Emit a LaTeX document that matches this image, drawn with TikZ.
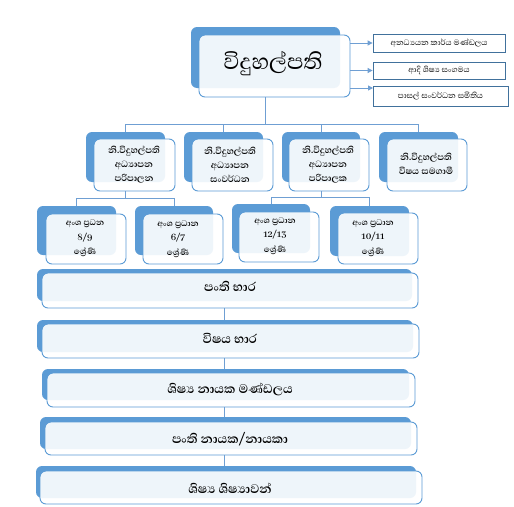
\documentclass[tikz,border=0pt]{standalone}
\usepackage{fontspec}
\newfontfamily\sinhfont[Script=Sinhala]{Abhaya Libre}
\usetikzlibrary{arrows.meta}
\definecolor{accent}{HTML}{5B9BD5}
\definecolor{linec}{HTML}{6F9FD3}
\definecolor{sidec}{HTML}{41719C}
\tikzset{
  backbox/.style={fill=accent, draw=none, rounded corners=6pt, inner sep=0pt},
  frontbox/.style={fill=white, fill opacity=0.9, draw=accent, draw opacity=1, line width=0.9pt, rounded corners=6pt, inner sep=0pt},
  sidebox/.style={draw=sidec, line width=0.8pt, fill=white, inner sep=0pt, align=center},
  conn/.style={draw=linec, line width=1pt},
  arr/.style={conn, -{Triangle[length=5pt,width=5pt]}},
  lbl/.style={align=center, inner sep=0pt},
  smalltxt/.style={font=\sinhfont\fontsize{10}{10}\selectfont},
  midtxt/.style={lbl, font=\sinhfont\bfseries\fontsize{11.5}{14}\selectfont},
  lowtxt/.style={lbl, font=\sinhfont\bfseries\fontsize{10.5}{14.5}\selectfont},
  widetxt/.style={lbl, font=\sinhfont\bfseries\fontsize{16}{18}\selectfont},
}
\newcommand\orgbox[9]{%
  \node[backbox, minimum width={(#4-#2)*1pt}, minimum height={(#5-#3)*1pt}] (#1b) at ({(#2+#4)/2},{(#3+#5)/2}) {};
  \node[frontbox, minimum width={(#8-#6)*1pt}, minimum height={(#9-#7)*1pt}] (#1) at ({(#6+#8)/2},{(#7+#9)/2}) {};
}
\begin{document}
\begin{tikzpicture}[x=1pt, y=-1pt]
\useasboundingbox[fill=white] (0,0) rectangle (514,506);

% top box
\orgbox{top}{191}{27}{340}{88}{199}{35}{350}{97}
\node[lbl, font=\sinhfont\fontsize{28}{30}\selectfont] (toptxt) at (273,64) {විදුහල්පති};

% side boxes
\node[sidebox, minimum width=132pt, minimum height=18pt, smalltxt] (s1) at (439,43) {අනධ්^^^^200dයයන කාර්ය මණ්ඩලය};
\node[sidebox, minimum width=132pt, minimum height=17pt, smalltxt] (s2) at (439,70.5) {ආදි ශිෂ්^^^^200dය සංගමය};
\node[sidebox, minimum width=135pt, minimum height=20pt, smalltxt] (s3) at (440.5,96) {පාසල් සංවර්ධන සමිතිය};
\coordinate (a3) at (373,88);
\draw[arr] (top.east |- s1.west) -- (s1.west);
\draw[arr] (top.east |- s2.west) -- (s2.west);
\draw[arr] (top.east |- a3) -- (a3);

% second row
\orgbox{r1}{86}{132}{165}{182}{94}{139}{175}{191}
\orgbox{r2}{184}{132}{263}{182}{192}{139}{273}{191}
\orgbox{r3}{282}{132}{360}{182}{289}{139}{369}{191}
\orgbox{r4}{379}{132}{458}{182}{387}{139}{467}{191}
\node[midtxt] (r1t) at (134,165) {නි.විදුහල්පති\\අධ්^^^^200dයාපන\\පරිපාලන};
\node[midtxt] (r2t) at (230,165) {නි.විදුහල්පති\\අධ්^^^^200dයාපන\\සංවර්ධන};
\node[midtxt] (r3t) at (328,165) {නි.විදුහල්පති\\අධ්^^^^200dයාපන\\පරිපාලක};
\node[midtxt] (r4t) at (426,164) {නි.විදුහල්පති\\විෂය සමගාමී};

\coordinate (bus1) at (266,124);
\draw[conn] (top.south -| topb.south) -- (topb.south |- bus1);
\draw[conn] (r1b.north) -- (r1b.north |- bus1) -- (r4b.north |- bus1) -- (r4b.north);
\draw[conn] (r2b.north) -- (r2b.north |- bus1);
\draw[conn] (r3b.north) -- (r3b.north |- bus1);

% third row
\orgbox{a}{37}{206}{116}{255}{46}{214}{126}{264}
\orgbox{bq}{135}{206}{213}{255}{143}{214}{223}{264}
\orgbox{c}{232}{204}{310}{253}{239}{212}{319}{262}
\orgbox{d}{330}{206}{409}{256}{338}{213}{418}{264}
\node[lowtxt] (at) at (85,238.5) {අංශ ප්^^^^200dරධන\\8/9\\ශ්^^^^200dරේණි};
\node[lowtxt] (bt) at (178,239) {අංශ ප්^^^^200dරධාන\\6/7\\ශ්^^^^200dරේණි};
\node[lowtxt] (ct) at (275,236) {අංශ ප්^^^^200dරධාන\\12/13\\ශ්^^^^200dරේණි};
\node[lowtxt] (dt) at (373,238) {අංශ ප්^^^^200dරධාන\\10/11\\ශ්^^^^200dරේණි};

\coordinate (bus2) at (0,198);
\coordinate (bus3) at (0,197);
\draw[conn] (r1.south -| r1b.south) -- (r1b.south |- bus2);
\draw[conn] (ab.north) -- (ab.north |- bus2) -- (bqb.north |- bus2) -- (bqb.north);
\draw[conn] (r3.south -| r3b.south) -- (r3b.south |- bus3);
\draw[conn] (cb.north) -- (cb.north |- bus3) -- (db.north |- bus3) -- (db.north);

% wide rows
\orgbox{w1}{37}{269}{412}{301}{42}{273}{418}{308}
\orgbox{w2}{37}{320}{413}{352}{42}{324}{419}{358}
\orgbox{w3}{42}{369}{409}{400}{47}{373}{415}{407}
\orgbox{w4}{40}{417}{411}{449}{45}{422}{417}{455}
\orgbox{w5}{36}{466}{416}{498}{40}{471}{422}{504}
\node[widetxt] (w1t) at (230,286) {පංති භාර};
\node[widetxt] (w2t) at (230,338) {විෂය භාර};
\node[widetxt] (w3t) at (230,389) {ශිෂ්^^^^200dය නායක මණ්ඩලය};
\node[widetxt] (w4t) at (230,439) {පංති නායක/නායකා};
\node[widetxt] (w5t) at (230,488) {ශිෂ්^^^^200dය ශිෂ්^^^^200dයාවන්};

\draw[conn] (w1.south -| w1b.north) -- (w2b.north -| w1b.north);
\draw[conn] (w2.south -| w1b.north) -- (w3b.north -| w1b.north);
\draw[conn] (w3.south -| w1b.north) -- (w4b.north -| w1b.north);
\draw[conn] (w4.south -| w1b.north) -- (w5b.north -| w1b.north);
\end{tikzpicture}
\end{document}
